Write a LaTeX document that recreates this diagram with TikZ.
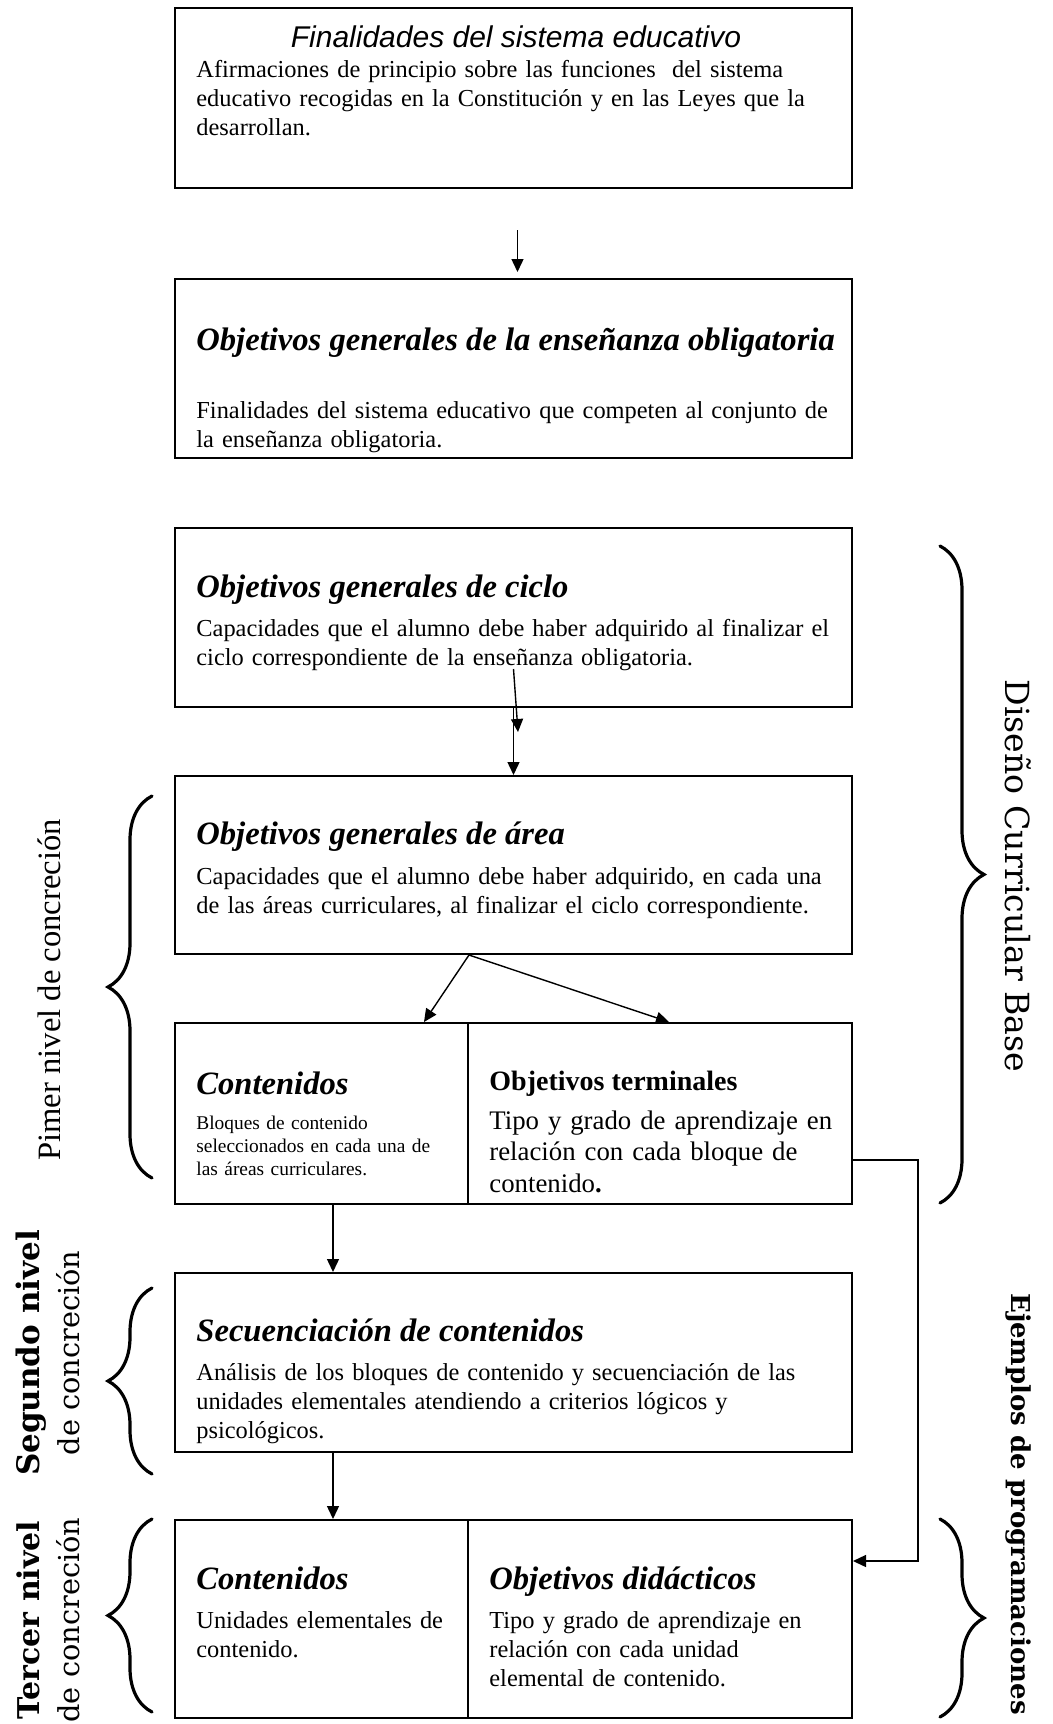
\documentclass[tikz,border=0pt]{standalone}
\usepackage{fontspec}
\setmainfont{Liberation Serif}
\newfontfamily\arialfont{Liberation Sans}
\newfontfamily\sidefont{DejaVu Serif}
\usetikzlibrary{arrows.meta,calc,decorations.pathreplacing}

\begin{document}
\begin{tikzpicture}[x=0.5pt,y=-0.5pt,
  box/.style={draw,line width=1pt,inner sep=0pt,anchor=north west},
  wide/.style={box,minimum width=338.5pt,minimum height=89.5pt},
  half/.style={box,minimum height=90.5pt},
  tit/.style={anchor=base west,inner sep=0pt,font=\fontsize{16.3}{19}\selectfont\bfseries\itshape},
  txt/.style={anchor=base west,inner sep=0pt,align=left,text width=345pt,font=\fontsize{12.2}{14.6}\selectfont},
  arr/.style={line width=0.7pt,-{Triangle[length=6.5pt,width=6pt]}},
  curly/.style={decorate,decoration={brace,amplitude=22pt},line width=1.6pt,line cap=round},
  side/.style={inner sep=0pt,font=\sidefont\fontsize{14.4}{20}\selectfont}]
\useasboundingbox (0,0) rectangle (1053,1724);

\node[wide,minimum height=90pt] (fin) at (174,7) {};
\node[anchor=base,inner sep=0pt,font=\arialfont\itshape\fontsize{15}{18}\selectfont] (fintit) at (516,47) {Finalidades del sistema educativo};
\node[txt] (finbody) at (196,77) {Afirmaciones de principio sobre las funciones\ \ del sistema\\educativo recogidas en la Constitución y en las Leyes que la\\desarrollan.};

\node[wide] (og) at (174,278) {};
\node[tit] (ogtit) at (196,350) {Objetivos generales de la enseñanza obligatoria};
\node[txt] (ogbody) at (196,418) {Finalidades del sistema educativo que competen al conjunto de\\la enseñanza obligatoria.};

\node[wide] (ciclo) at (174,527) {};
\node[tit] (ciclotit) at (196,597) {Objetivos generales de ciclo};
\node[txt] (ciclobody) at (196,636) {Capacidades que el alumno debe haber adquirido al finalizar el\\ciclo correspondiente de la enseñanza obligatoria.};

\node[wide,minimum height=89pt] (area) at (174,775) {};
\node[tit] (areatit) at (196,844) {Objetivos generales de área};
\node[txt] (areabody) at (196,884) {Capacidades que el alumno debe haber adquirido, en cada una\\de las áreas curriculares, al finalizar el ciclo correspondiente.};

\node[half,minimum width=146.5pt] (cont) at (174,1022) {};
\node[half,minimum width=192pt] (term) at (467,1022) {};
\node[tit] (conttit) at (196,1094) {Contenidos};
\node[txt,text width=180pt,font=\fontsize{9.7}{11.5}\selectfont] (contbody) at (196,1129) {Bloques de contenido\\seleccionados en cada una de\\las áreas curriculares.};
\node[tit,font=\fontsize{14}{17}\selectfont\bfseries] (termtit) at (489,1090) {Objetivos terminales};
\node[txt,text width=185pt,font=\fontsize{13.4}{15.8}\selectfont] (termbody) at (489,1129) {Tipo y grado de aprendizaje en\\relación con cada bloque de\\contenido\textbf{.}};

\node[wide] (sec) at (174,1272) {};
\node[tit] (sectit) at (196,1341) {Secuenciación de contenidos};
\node[txt] (secbody) at (196,1380) {Análisis de los bloques de contenido y secuenciación de las\\unidades elementales atendiendo a criterios lógicos y\\psicológicos.};

\node[box,minimum width=146.5pt,minimum height=99pt] (cont2) at (174,1519) {};
\node[box,minimum width=192pt,minimum height=99pt] (objdid) at (467,1519) {};
\node[tit] (cont2tit) at (196,1589) {Contenidos};
\node[txt,text width=180pt] (cont2body) at (196,1628) {Unidades elementales de\\contenido.};
\node[tit] (objdidtit) at (489,1589) {Objetivos didácticos};
\node[txt,text width=185pt] (objdidbody) at (489,1628) {Tipo y grado de aprendizaje en\\relación con cada unidad\\elemental de contenido.};

% connectors
\draw[arr,shorten <=20.5pt,shorten >=3pt] ([xshift=2pt]fin.south) -- ([xshift=2pt]og.north);
\draw[arr] ($(ciclo.south)+(0,-39)$) -- ($(ciclo.south)+(4.5,24)$);
\draw[arr] (ciclo.south) -- (area.north);
\draw[arr] (area.south -| cont.east) -- ($(cont.north east)+(-45,0)$);
\draw[arr] (area.south -| cont.east) -- ($(term.north)+(9,0)$);
\draw[arr] ([xshift=5.75pt]cont.south) -- ([xshift=5.75pt]cont.south |- sec.north);
\draw[arr] ([xshift=5.75pt]cont2.north |- sec.south) -- ([xshift=5.75pt]cont2.north);
\coordinate (turn) at (918,1561);
\draw[arr] ($(term.east)+(0,46.5)$) -| (turn) -- (turn -| objdid.east);

% braces
\draw[curly] (940,546) -- (940,1203);
\draw[curly] (940,1519) -- (940,1717);
\draw[curly] (152,1178) -- (152,796);
\draw[curly] (152,1474) -- (152,1288);
\draw[curly] (152,1712) -- (152,1519);

\node[side,rotate=-90,font=\sidefont\fontsize{16.6}{20}\selectfont] (dcb) at (1018,876) {Diseño Curricular Base};
\node[side,rotate=-90,font=\sidefont\bfseries\fontsize{13}{16}\selectfont] (ejem) at (1018,1504) {Ejemplos de programaciones};
\node[rotate=90,inner sep=0pt,font=\fontsize{16.3}{20}\selectfont] (pimer) at (49,990) {Pimer nivel de concreción};
\node[side,rotate=90,align=center] (segundo) at (48,1353) {{\bfseries\fontsize{15.5}{20}\selectfont Segundo nivel}\\de concreción};
\node[side,rotate=90,align=center] (tercer) at (48,1620) {{\bfseries\fontsize{15}{20}\selectfont Tercer nivel}\\de concreción};
\end{tikzpicture}
\end{document}
